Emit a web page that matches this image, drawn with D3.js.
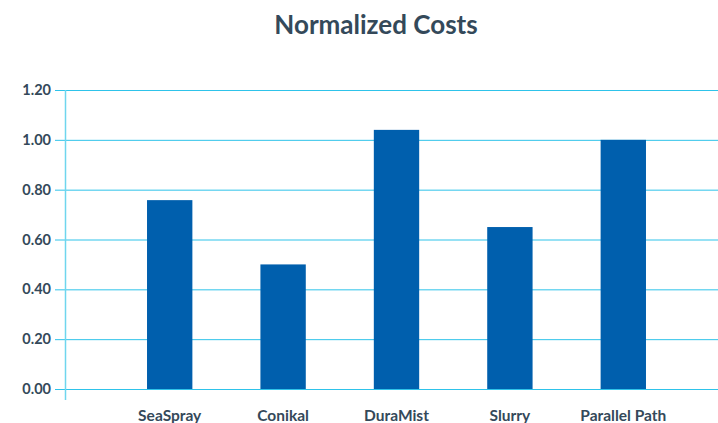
<!DOCTYPE html>
<html><head><meta charset="utf-8">
<script src="https://cdn.jsdelivr.net/npm/d3@7"></script>
<style>body{margin:0;background:#fff;} svg{display:block;font-family:Lato,"Open Sans",sans-serif;}</style>
</head><body>
<svg id="chart" width="718" height="423"></svg>
<script>
const categories = ["SeaSpray", "Conikal", "DuraMist", "Slurry", "Parallel Path"];
const values = [0.758, 0.50, 1.04, 0.65, 1.00];
const yTicks = [0, 0.2, 0.4, 0.6, 0.8, 1.0, 1.2];
const title = "Normalized Costs";

const svg = d3.select("#chart");
const textColor = "#34495a";
const gridColor = "#2ec3ea";
const barColor = "#005fad";

const x = d3.scaleBand().domain(categories).range([113, 680]).paddingInner(0.6).paddingOuter(0.3);
const y = d3.scaleLinear().domain([0, 1.2]).range([389, 90]);

svg.append("text").attr("x", 376).attr("y", 34).attr("text-anchor", "middle")
  .attr("fill", textColor).attr("font-size", 26).attr("font-weight", 700).text(title);

// gridlines with ticks
const yAxis = d3.axisLeft(y).tickValues(yTicks).tickFormat(d3.format(".2f")).tickSize(-(718 - 65)).tickPadding(18);
const gy = svg.append("g").attr("transform", "translate(65,0)").call(yAxis);
gy.select(".domain").remove();
gy.selectAll(".tick line").attr("stroke", gridColor).attr("x1", -10).attr("x2", 718 - 65);
gy.selectAll(".tick text").attr("fill", textColor).attr("font-size", 14.5).attr("font-weight", 700)
  .attr("font-family", "Lato, sans-serif").attr("x", -14);

// y axis line
svg.append("line").attr("x1", 65.5).attr("x2", 65.5).attr("y1", y(1.2)).attr("y2", 400)
  .attr("stroke", "#6fd6ee").attr("stroke-width", 1.5);

// bars
svg.append("g").selectAll("rect").data(values).join("rect")
  .attr("x", (d, i) => x(categories[i])).attr("width", x.bandwidth())
  .attr("y", d => y(d)).attr("height", d => y(0) - y(d)).attr("fill", barColor);

// x labels
const xAxis = d3.axisBottom(x).tickSize(0);
const gx = svg.append("g").attr("transform", "translate(0,401)").call(xAxis);
gx.select(".domain").remove();
gx.selectAll(".tick text").attr("fill", textColor).attr("font-size", 15.5).attr("font-weight", 700)
  .attr("font-family", "Lato, sans-serif").attr("dy", "0").attr("y", 20);
</script>
</body></html>
